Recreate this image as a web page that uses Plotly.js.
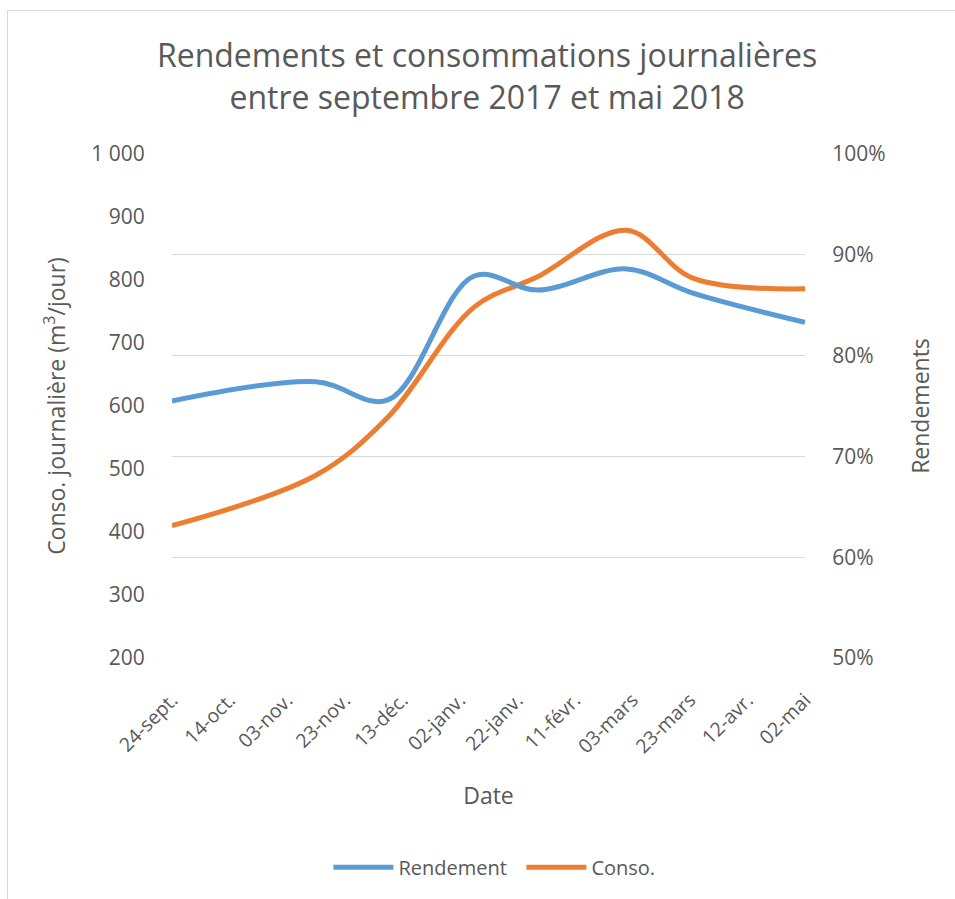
<!DOCTYPE html>
<html>
<head>
<meta charset="utf-8">
<script src="https://cdn.plot.ly/plotly-3.0.1.min.js"></script>
<style>
  html, body { margin: 0; padding: 0; background: #fff; }
  #wrap { position: relative; width: 955px; height: 899px; }
  #chart { position: absolute; left: 0; top: 0; width: 955px; height: 899px; }
  #frame { position: absolute; left: 7px; top: 10px; width: 960px; height: 900px;
           border-left: 1px solid #D9D9D9; border-top: 1px solid #D9D9D9; pointer-events: none; }
</style>
</head>
<body>
<div id="wrap">
  <div id="chart"></div>
  <div id="frame"></div>
</div>
<script>
// Data
const dates = ['2017-09-24', '2017-11-13', '2017-12-08', '2018-01-07', '2018-01-29', '2018-03-01', '2018-03-24', '2018-05-02'];
const rendement = [0.755, 0.774, 0.756, 0.879, 0.865, 0.886, 0.862, 0.833];
const conso = [410, 490, 582, 757, 805, 879, 803, 786];

const tickDates = ['2017-09-24', '2017-10-14', '2017-11-03', '2017-11-23', '2017-12-13', '2018-01-02',
                   '2018-01-22', '2018-02-11', '2018-03-03', '2018-03-23', '2018-04-12', '2018-05-02'];
const tickLabels = ['24-sept.', '14-oct.', '03-nov.', '23-nov.', '13-déc.', '02-janv.',
                    '22-janv.', '11-févr.', '03-mars', '23-mars', '12-avr.', '02-mai'];
const consoTicks = [200, 300, 400, 500, 600, 700, 800, 900, 1000];
const rendTicks = [0.5, 0.6, 0.7, 0.8, 0.9, 1.0];

const FONT = 'Open Sans, Noto Sans, sans-serif';
const GREY = '#595959';
const CLEAR = 'rgba(0,0,0,0)';

const traces = [
  {
    x: dates, y: rendement, name: 'Rendement', yaxis: 'y2', type: 'scatter', mode: 'lines',
    line: { color: '#5B9BD5', width: 5, shape: 'spline', smoothing: 1 }
  },
  {
    x: dates, y: conso, name: 'Conso.', yaxis: 'y', type: 'scatter', mode: 'lines',
    line: { color: '#ED7D31', width: 5, shape: 'spline', smoothing: 1 }
  }
];

const layout = {
  width: 955, height: 899,
  margin: { l: 172, r: 150, t: 154, b: 241 },
  paper_bgcolor: '#fff', plot_bgcolor: '#fff',
  separators: ', ',
  font: { family: FONT, color: GREY, size: 20 },
  title: {
    text: 'Rendements et consommations journalières<br>entre septembre 2017 et mai 2018',
    font: { family: FONT, size: 32, color: GREY },
    x: 0.51, xanchor: 'center', y: 0.925, yanchor: 'top'
  },
  xaxis: {
    type: 'date',
    range: ['2017-09-24', '2018-05-02'],
    tickmode: 'array', tickvals: tickDates, ticktext: tickLabels,
    tickangle: -45, showgrid: false, zeroline: false, showline: false,
    ticks: 'outside', ticklen: 22, tickcolor: CLEAR,
    tickfont: { size: 19.5, color: GREY },
    title: { text: 'Date', font: { size: 23, color: GREY }, standoff: 30 }
  },
  yaxis: {
    range: [200, 1000], tickvals: consoTicks,
    tickformat: ',d', showgrid: false, zeroline: false, showline: false,
    ticks: 'outside', ticklen: 22, tickcolor: CLEAR, tickfont: { size: 21, color: GREY },
    title: { text: 'Conso. journalière (m<sup>3</sup>/jour)', font: { size: 23, color: GREY }, standoff: 19 }
  },
  yaxis2: {
    overlaying: 'y', side: 'right',
    range: [0.5, 1.0], tickvals: rendTicks,
    tickformat: '.0%', showgrid: true, gridcolor: '#D9D9D9', gridwidth: 1.3,
    zeroline: false, showline: false,
    ticks: 'outside', ticklen: 22, tickcolor: CLEAR, tickfont: { size: 21, color: GREY },
    title: { text: 'Rendements', font: { size: 23, color: GREY }, standoff: 28 }
  },
  showlegend: true,
  legend: {
    orientation: 'h', x: 0.552, xanchor: 'center', y: -0.415, yanchor: 'middle',
    font: { size: 20, color: GREY }, itemwidth: 60, traceorder: 'normal',
    entrywidth: 118, entrywidthmode: 'pixels'
  }
};

Plotly.newPlot('chart', traces, layout, { displayModeBar: false, staticPlot: true });
</script>
</body>
</html>
